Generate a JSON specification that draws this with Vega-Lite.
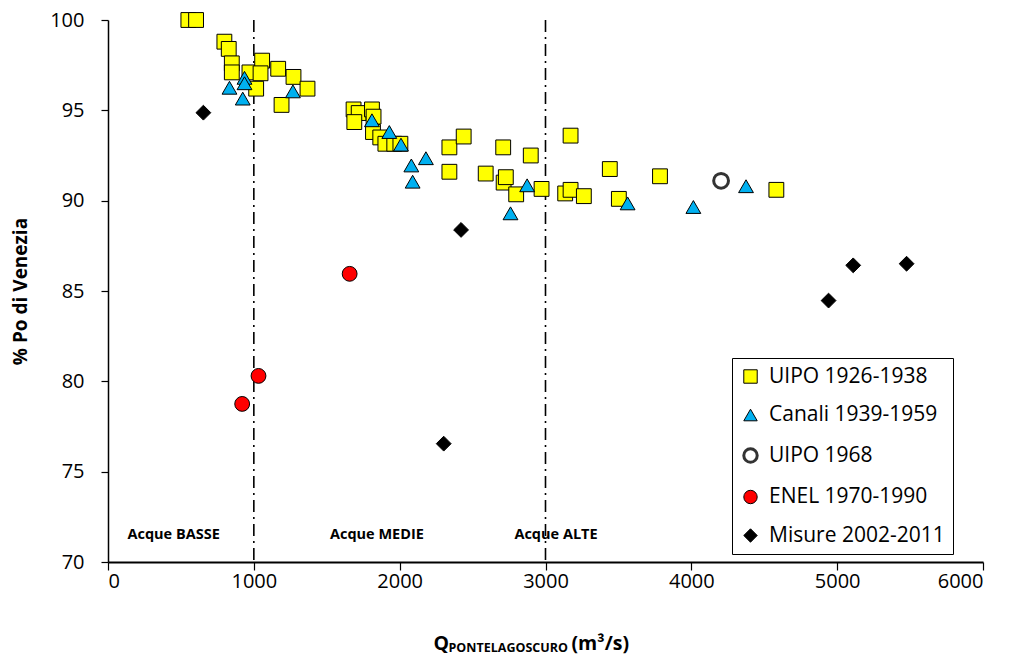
{
  "$schema": "https://vega.github.io/schema/vega-lite/v6.json",
  "width": 875,
  "height": 542,
  "autosize": {"type": "none"},
  "padding": {"left": 108, "top": 20, "right": 29, "bottom": 95},
  "background": "white",
  "config": {
    "font": "Open Sans",
    "view": {"stroke": null},
    "axis": {"grid": false, "labelFont": "Open Sans", "labelColor": "#000", "titleColor": "#000", "titleFont": "Open Sans", "domainColor": "#000", "tickColor": "#000"}
  },
  "datasets": {
    "pts": [
      {"series": "UIPO 1926-1938", "Q": 551, "pct": 100},
      {"series": "UIPO 1926-1938", "Q": 604, "pct": 100},
      {"series": "UIPO 1926-1938", "Q": 798, "pct": 98.8},
      {"series": "UIPO 1926-1938", "Q": 828, "pct": 98.4},
      {"series": "UIPO 1926-1938", "Q": 849, "pct": 97.6},
      {"series": "UIPO 1926-1938", "Q": 849, "pct": 97.1},
      {"series": "UIPO 1926-1938", "Q": 970, "pct": 97.1},
      {"series": "UIPO 1926-1938", "Q": 1016, "pct": 96.2},
      {"series": "UIPO 1926-1938", "Q": 1057, "pct": 97.75},
      {"series": "UIPO 1926-1938", "Q": 1046, "pct": 97.05},
      {"series": "UIPO 1926-1938", "Q": 1167, "pct": 97.3},
      {"series": "UIPO 1926-1938", "Q": 1272, "pct": 96.85},
      {"series": "UIPO 1926-1938", "Q": 1368, "pct": 96.2},
      {"series": "UIPO 1926-1938", "Q": 1190, "pct": 95.3},
      {"series": "UIPO 1926-1938", "Q": 1684, "pct": 95.05},
      {"series": "UIPO 1926-1938", "Q": 1719, "pct": 94.85},
      {"series": "UIPO 1926-1938", "Q": 1689, "pct": 94.35},
      {"series": "UIPO 1926-1938", "Q": 1810, "pct": 95.05},
      {"series": "UIPO 1926-1938", "Q": 1821, "pct": 94.65},
      {"series": "UIPO 1926-1938", "Q": 1817, "pct": 93.8},
      {"series": "UIPO 1926-1938", "Q": 1867, "pct": 93.5},
      {"series": "UIPO 1926-1938", "Q": 1902, "pct": 93.15},
      {"series": "UIPO 1926-1938", "Q": 1963, "pct": 93.15},
      {"series": "UIPO 1926-1938", "Q": 2005, "pct": 93.15},
      {"series": "UIPO 1926-1938", "Q": 2341, "pct": 92.95},
      {"series": "UIPO 1926-1938", "Q": 2439, "pct": 93.55},
      {"series": "UIPO 1926-1938", "Q": 2341, "pct": 91.6},
      {"series": "UIPO 1926-1938", "Q": 2590, "pct": 91.5},
      {"series": "UIPO 1926-1938", "Q": 2710, "pct": 92.95},
      {"series": "UIPO 1926-1938", "Q": 2899, "pct": 92.5},
      {"series": "UIPO 1926-1938", "Q": 2713, "pct": 91.0},
      {"series": "UIPO 1926-1938", "Q": 2728, "pct": 91.3},
      {"series": "UIPO 1926-1938", "Q": 2799, "pct": 90.35},
      {"series": "UIPO 1926-1938", "Q": 2973, "pct": 90.65},
      {"series": "UIPO 1926-1938", "Q": 3135, "pct": 90.4},
      {"series": "UIPO 1926-1938", "Q": 3172, "pct": 90.6},
      {"series": "UIPO 1926-1938", "Q": 3172, "pct": 93.6},
      {"series": "UIPO 1926-1938", "Q": 3263, "pct": 90.25},
      {"series": "UIPO 1926-1938", "Q": 3441, "pct": 91.75},
      {"series": "UIPO 1926-1938", "Q": 3503, "pct": 90.1},
      {"series": "UIPO 1926-1938", "Q": 3785, "pct": 91.35},
      {"series": "UIPO 1926-1938", "Q": 4583, "pct": 90.6},
      {"series": "Canali 1939-1959", "Q": 833, "pct": 96.25},
      {"series": "Canali 1939-1959", "Q": 936, "pct": 96.8},
      {"series": "Canali 1939-1959", "Q": 936, "pct": 96.5},
      {"series": "Canali 1939-1959", "Q": 924, "pct": 95.65},
      {"series": "Canali 1939-1959", "Q": 1268, "pct": 96.05},
      {"series": "Canali 1939-1959", "Q": 1810, "pct": 94.45},
      {"series": "Canali 1939-1959", "Q": 1929, "pct": 93.8},
      {"series": "Canali 1939-1959", "Q": 2009, "pct": 93.1},
      {"series": "Canali 1939-1959", "Q": 2180, "pct": 92.35},
      {"series": "Canali 1939-1959", "Q": 2080, "pct": 91.95},
      {"series": "Canali 1939-1959", "Q": 2089, "pct": 91.05},
      {"series": "Canali 1939-1959", "Q": 2874, "pct": 90.85},
      {"series": "Canali 1939-1959", "Q": 2760, "pct": 89.3},
      {"series": "Canali 1939-1959", "Q": 3563, "pct": 89.85},
      {"series": "Canali 1939-1959", "Q": 4014, "pct": 89.65},
      {"series": "Canali 1939-1959", "Q": 4375, "pct": 90.8},
      {"series": "UIPO 1968", "Q": 4204, "pct": 91.1},
      {"series": "ENEL 1970-1990", "Q": 1657, "pct": 85.95},
      {"series": "ENEL 1970-1990", "Q": 1032, "pct": 80.3},
      {"series": "ENEL 1970-1990", "Q": 920, "pct": 78.75},
      {"series": "Misure 2002-2011", "Q": 654, "pct": 94.87},
      {"series": "Misure 2002-2011", "Q": 2302, "pct": 76.55},
      {"series": "Misure 2002-2011", "Q": 2421, "pct": 88.38},
      {"series": "Misure 2002-2011", "Q": 4941, "pct": 84.47},
      {"series": "Misure 2002-2011", "Q": 5110, "pct": 86.42},
      {"series": "Misure 2002-2011", "Q": 5476, "pct": 86.51}
    ],
    "zones": [
      {"Q": 1000},
      {"Q": 3000}
    ],
    "labels": [
      {"label": "Acque BASSE", "Q": 450, "pct": 71.5},
      {"label": "Acque MEDIE", "Q": 1844, "pct": 71.5},
      {"label": "Acque ALTE", "Q": 3072, "pct": 71.5}
    ]
  },
  "resolve": {"axis": {"x": "independent"}},
  "layer": [
    {
      "mark": {"type": "rule", "color": "#868686", "strokeWidth": 1.5},
      "encoding": {"y": {"datum": 100, "type": "quantitative", "scale": {"domain": [70, 100], "nice": false}}}
    },
    {
      "mark": {"type": "rule", "color": "#404040", "strokeWidth": 1.5},
      "encoding": {"x": {"datum": 6000, "type": "quantitative", "scale": {"domain": [0, 6000], "nice": false}, "axis": null}}
    },
    {
      "data": {"name": "zones"},
      "mark": {"type": "rule", "color": "#000", "strokeWidth": 1.6, "strokeDash": [12, 5, 2, 5]},
      "encoding": {
        "x": {"field": "Q", "type": "quantitative", "scale": {"domain": [0, 6000], "nice": false},
          "axis": {"orient": "bottom", "title": "PONTELAGOSCURO", "titleFontSize": 12.5, "titleFontWeight": "bold", "titleAlign": "left", "titleBaseline": "alphabetic", "titleX": 340, "titleY": 89, "domain": false, "ticks": false, "labels": false, "grid": false}}
      }
    },
    {
      "data": {"name": "labels"},
      "mark": {"type": "text", "fontWeight": "bold", "fontSize": 14.5, "color": "#000", "align": "center", "baseline": "middle"},
      "encoding": {
        "x": {"field": "Q", "type": "quantitative", "scale": {"domain": [0, 6000], "nice": false},
          "axis": {"orient": "bottom", "title": "(m³/s)", "titleFontSize": 19.5, "titleFontWeight": "bold", "titleAlign": "left", "titleBaseline": "alphabetic", "titleX": 463, "titleY": 87, "domain": false, "ticks": false, "labels": false, "grid": false}},
        "y": {"field": "pct", "type": "quantitative"},
        "text": {"field": "label"}
      }
    },
    {
      "data": {"name": "pts"},
      "mark": {"type": "point", "filled": true, "opacity": 1, "size": 220},
      "encoding": {
        "x": {"field": "Q", "type": "quantitative", "scale": {"domain": [0, 6000], "nice": false},
          "axis": {"orient": "bottom", "title": "Q", "titleFontSize": 19.5, "titleFontWeight": "bold", "titleAlign": "left", "titleBaseline": "alphabetic", "titleX": 325, "titleY": 87, "values": [0, 1000, 2000, 3000, 4000, 5000, 6000], "format": "d", "labelFontSize": 20, "tickSize": 8, "labelPadding": 1, "domainWidth": 2, "tickWidth": 1.2}},
        "y": {"field": "pct", "type": "quantitative", "scale": {"domain": [70, 100], "nice": false},
          "axis": {"title": "% Po di Venezia", "titleFontSize": 19, "titleFontWeight": "bold", "titleBaseline": "middle", "titleX": -88, "values": [70, 75, 80, 85, 90, 95, 100], "labelFontSize": 20, "tickSize": 7, "labelPadding": 17, "domainWidth": 1.5, "tickWidth": 1.2}},
        "shape": {"field": "series", "type": "nominal",
          "scale": {"domain": ["UIPO 1926-1938", "Canali 1939-1959", "UIPO 1968", "ENEL 1970-1990", "Misure 2002-2011"], "range": ["square", "triangle-up", "circle", "circle", "diamond"]},
          "legend": {"title": null, "orient": "none", "legendX": 624, "legendY": 338, "padding": 8, "rowPadding": 16.5, "strokeColor": "#000", "fillColor": "#fff", "labelFontSize": 21, "labelFont": "Open Sans", "labelColor": "#000", "labelOffset": 8, "labelLimit": 400, "symbolSize": 180,
            "encoding": {"symbols": {"strokeWidth": {"value": {"expr": "datum.value === 'UIPO 1968' ? 3 : 1"}}}}}},
        "fill": {"field": "series", "type": "nominal",
          "scale": {"domain": ["UIPO 1926-1938", "Canali 1939-1959", "UIPO 1968", "ENEL 1970-1990", "Misure 2002-2011"], "range": ["#FFFF00", "#00B0F0", "#FFFFFF", "#FF0000", "#000000"]}},
        "stroke": {"field": "series", "type": "nominal",
          "scale": {"domain": ["UIPO 1926-1938", "Canali 1939-1959", "UIPO 1968", "ENEL 1970-1990", "Misure 2002-2011"], "range": ["#000000", "#000000", "#333333", "#000000", "#000000"]}},
        "strokeWidth": {"condition": {"test": "datum.series === 'UIPO 1968'", "value": 3}, "value": 1}
      }
    }
  ]
}
